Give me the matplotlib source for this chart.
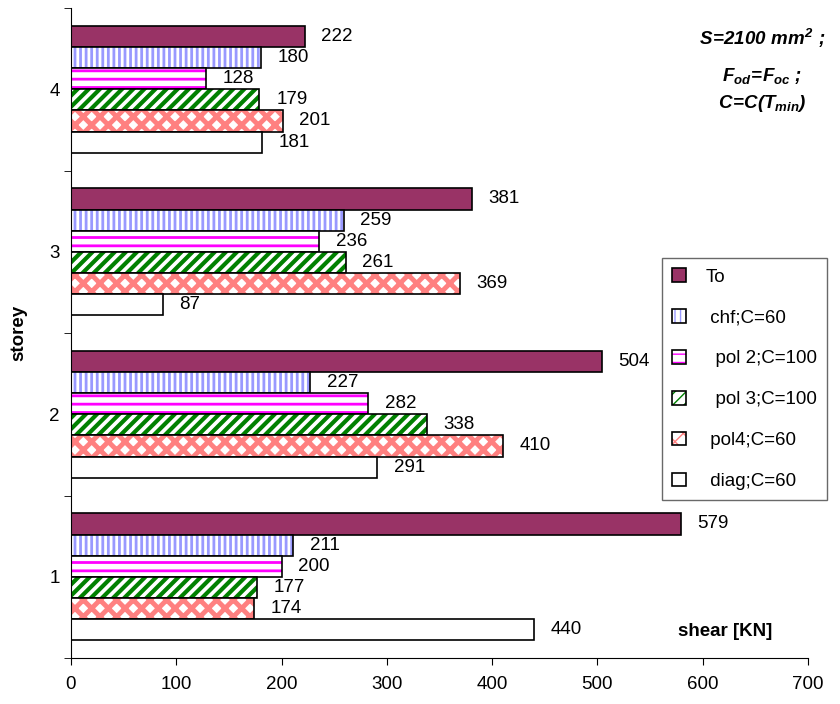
import numpy as np
import matplotlib
matplotlib.use('Agg')
import matplotlib.pyplot as plt
from matplotlib.patches import Patch
from matplotlib.legend_handler import HandlerTuple

plt.rcParams['font.family'] = ['Liberation Sans', 'DejaVu Sans']
plt.rcParams['mathtext.fontset'] = 'custom'
plt.rcParams['mathtext.rm'] = 'Liberation Sans:bold:italic'
plt.rcParams['mathtext.it'] = 'Liberation Sans:bold:italic'
plt.rcParams['mathtext.bf'] = 'Liberation Sans:bold:italic'

# storey 1..4
storeys = [1, 2, 3, 4]
to_vals = [579, 504, 381, 222]
chf_vals = [211, 227, 259, 180]
pol2_vals = [200, 282, 236, 128]
pol3_vals = [177, 338, 261, 179]
pol4_vals = [174, 410, 369, 201]
diag_vals = [440, 291, 87, 181]

labels = ['To', ' chf;C=60', '  pol 2;C=100', '  pol 3;C=100', ' pol4;C=60', ' diag;C=60']
series = [to_vals, chf_vals, pol2_vals, pol3_vals, pol4_vals, diag_vals]
# (face, hatch, hatch colour, hatch linewidth)
styles = [
    ('#993366', None, None, 1.0),
    ('white', '|||', '#9999FF', 2.0),
    ('white', '--', '#FF00FF', 2.0),
    ('white', '///', '#008000', 3.0),
    ('white', 'xx', '#FF8080', 3.5),
    ('white', None, None, 1.0),
]

fs = 13.5
fig = plt.figure(figsize=(8.4, 7.04), dpi=100)
ax = fig.add_axes([71 / 840, 1 - 658 / 704, (808 - 71) / 840, 650 / 704])

h = 0.13
y = np.array(storeys, dtype=float)
handles = []
for i, (vals, (face, hatch, hcol, hlw)) in enumerate(zip(series, styles)):
    pos = y + (2.5 - i) * h
    if hatch:
        # hatch layer first, then the black outline on top
        bars = ax.barh(pos, vals, height=h, color=face, hatch=hatch,
                       edgecolor=hcol, linewidth=0)
        for b in bars:
            if hasattr(b, 'set_hatch_linewidth'):
                b.set_hatch_linewidth(hlw)
        hp = Patch(facecolor=face, hatch=hatch, edgecolor=hcol, linewidth=0)
        if hasattr(hp, 'set_hatch_linewidth'):
            hp.set_hatch_linewidth(hlw)
        ax.barh(pos, vals, height=h, color='none', edgecolor='black', linewidth=1.2)
        handles.append((hp, Patch(facecolor='none', edgecolor='black', linewidth=1.2)))
    else:
        ax.barh(pos, vals, height=h, color=face, edgecolor='black', linewidth=1.2)
        handles.append(Patch(facecolor=face, edgecolor='black', linewidth=1.2))
    for p, v in zip(pos, vals):
        ax.annotate(str(v), (v, p), xytext=(12, 0), textcoords='offset points',
                    ha='left', va='center', fontsize=fs)

ax.set_xlim(0, 700)
ax.set_ylim(0.5, 4.5)
ax.set_xticks(range(0, 701, 100))
ax.set_yticks(storeys)
ax.set_yticks([0.5, 1.5, 2.5, 3.5, 4.5], minor=True)
ax.tick_params(axis='y', which='major', length=0, labelsize=fs, pad=8)
ax.tick_params(axis='y', which='minor', length=5, direction='out')
ax.tick_params(axis='x', length=5, direction='out', labelsize=fs, pad=8)
ax.spines['top'].set_visible(False)
ax.spines['right'].set_visible(False)

ax.set_ylabel('storey', fontsize=fs, fontweight='bold', labelpad=16)
fig.text(725 / 840, 1 - 632 / 704, 'shear [KN]', fontsize=fs, fontweight='bold',
         ha='center', va='center')

fig.text(762 / 840, 1 - 38 / 704, r'$S\!=\!2100\ mm^{2}\ ;$', fontsize=13.5, ha='center', va='center')
fig.text(762 / 840, 1 - 76 / 704, r'$F_{od}\!=\!F_{oc}\ ;$', fontsize=13.5, ha='center', va='center')
fig.text(762 / 840, 1 - 103 / 704, r'$C\!=\!C(T_{min})$', fontsize=13.5, ha='center', va='center')

leg = fig.legend(handles, labels, loc='upper left',
                 bbox_to_anchor=(662 / 840, 1 - 258 / 704),
                 handler_map={tuple: HandlerTuple(ndivide=1, pad=0)},
                 fontsize=fs, frameon=True, fancybox=False, labelspacing=1.25,
                 handlelength=0.75, handleheight=0.75, handletextpad=1.0,
                 borderpad=0.55, borderaxespad=0)
leg.get_frame().set_edgecolor('#444444')
leg.get_frame().set_linewidth(1.0)

fig.savefig('out.png', dpi=100)
